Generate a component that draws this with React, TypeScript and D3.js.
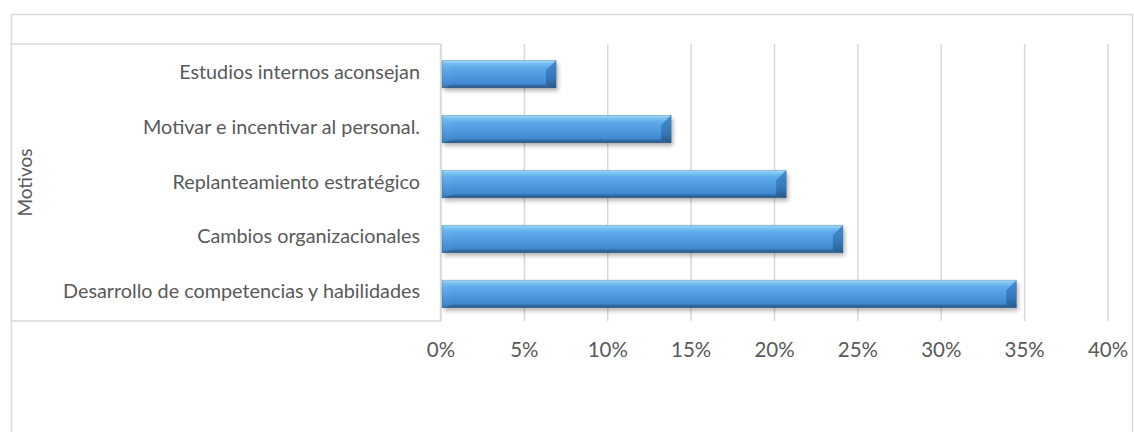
import React from "react";
import * as d3 from "d3";

const categories: string[] = [
  "Estudios internos aconsejan",
  "Motivar e incentivar al personal.",
  "Replanteamiento estratégico",
  "Cambios organizacionales",
  "Desarrollo de competencias y habilidades",
];
const values: number[] = [6.9, 13.8, 20.7, 24.1, 34.5];
const tickValues: number[] = [0, 5, 10, 15, 20, 25, 30, 35, 40];
const axisTitle = "Motivos";

const W = 1134;
const H = 432;
const plotLeft = 441;
const plotRight = 1108;
const plotTop = 44;
const plotBottom = 321;
const FONT = "Lato, 'Open Sans', sans-serif";
const TEXT = "#595959";
const GRID = "#d9d9d9";

export default function App() {
  const x = d3.scaleLinear().domain([0, 40]).range([plotLeft, plotRight]);
  const y = d3
    .scaleBand<string>()
    .domain(categories)
    .range([plotTop, plotBottom])
    .paddingInner(0.5)
    .paddingOuter(0.27);
  const bw = y.bandwidth();
  const b = 10;

  return (
    <svg
      width={W}
      height={H}
      style={{ position: "absolute", left: 0, top: 0, background: "#fff" }}
    >
      <defs>
        <linearGradient id="barGrad" x1="0" y1="0" x2="0" y2="1">
          <stop offset="0" stopColor="#a6dcfa" />
          <stop offset="0.1" stopColor="#7cc4f3" />
          <stop offset="0.25" stopColor="#5eaaea" />
          <stop offset="0.6" stopColor="#4c97dc" />
          <stop offset="0.84" stopColor="#4189d0" />
          <stop offset="0.92" stopColor="#306ca6" />
          <stop offset="1" stopColor="#234f7c" />
        </linearGradient>
        <linearGradient id="leftGrad" x1="0" y1="0" x2="0" y2="1">
          <stop offset="0" stopColor="#7cc0f0" />
          <stop offset="0.45" stopColor="#5aa3e3" />
          <stop offset="1" stopColor="#3d80c4" />
        </linearGradient>
        <linearGradient id="rightGrad" x1="0" y1="0" x2="0" y2="1">
          <stop offset="0" stopColor="#3e86cc" />
          <stop offset="0.6" stopColor="#3576b8" />
          <stop offset="1" stopColor="#265886" />
        </linearGradient>
        <filter id="shadow" x="-5%" y="-40%" width="110%" height="200%">
          <feGaussianBlur stdDeviation="2" />
        </filter>
      </defs>

      {/* outer frame */}
      <rect x={11.5} y={14.5} width={1121} height={440} fill="#fff" stroke={GRID} strokeWidth={1.5} />

      {/* inner label box */}
      <rect x={11.5} y={plotTop} width={plotLeft - 12} height={plotBottom - plotTop} fill="#fff" stroke={GRID} strokeWidth={1.5} />

      {/* gridlines */}
      {tickValues.map((t) => (
        <line
          key={`g${t}`}
          x1={x(t)}
          x2={x(t)}
          y1={plotTop}
          y2={plotBottom}
          stroke={GRID}
          strokeWidth={1.5}
        />
      ))}

      {/* bars */}
      {categories.map((c, i) => {
        const x0 = x(0) + 1;
        const x1 = x(values[i]);
        const y0 = (y(c) as number) + 1.5;
        const y1 = y0 + bw;
        return (
          <g key={c}>
            <rect
              x={x0 + 2}
              y={y0 + 3}
              width={x1 - x0}
              height={bw}
              fill="#000"
              opacity={0.3}
              filter="url(#shadow)"
            />
            <rect x={x0} y={y0} width={x1 - x0} height={bw} fill="url(#barGrad)" />
            {/* left bevel strip */}
            <polygon
              points={`${x0},${y0} ${x0 + b},${y0 + b} ${x0 + b},${y1 - 3} ${x0},${y1}`}
              fill="url(#leftGrad)"
              opacity={0.85}
            />
            {/* right bevel strip */}
            <polygon
              points={`${x1},${y0} ${x1 - b},${y0 + b} ${x1 - b},${y1 - 3} ${x1},${y1}`}
              fill="url(#rightGrad)"
              opacity={0.9}
            />
            <rect x={x0} y={y0} width={x1 - x0} height={bw} fill="none" stroke="#2a5d90" strokeWidth={0.6} opacity={0.5} />
          </g>
        );
      })}

      {/* category labels */}
      {categories.map((c) => (
        <text
          key={`l${c}`}
          x={420}
          y={(y(c) as number) + bw / 2 + 1}
          textAnchor="end"
          dominantBaseline="middle"
          fontFamily={FONT}
          fontSize={19.8}
          fill={TEXT}
        >
          {c}
        </text>
      ))}

      {/* tick labels */}
      {tickValues.map((t) => (
        <text
          key={`t${t}`}
          x={x(t)}
          y={352}
          textAnchor="middle"
          dominantBaseline="middle"
          fontFamily={FONT}
          fontSize={20.5}
          fill={TEXT}
        >
          {`${t}%`}
        </text>
      ))}

      {/* axis title */}
      <text
        transform={`translate(27, ${(plotTop + plotBottom) / 2}) rotate(-90)`}
        textAnchor="middle"
        dominantBaseline="middle"
        fontFamily={FONT}
        fontSize={19}
        fill={TEXT}
      >
        {axisTitle}
      </text>
    </svg>
  );
}
